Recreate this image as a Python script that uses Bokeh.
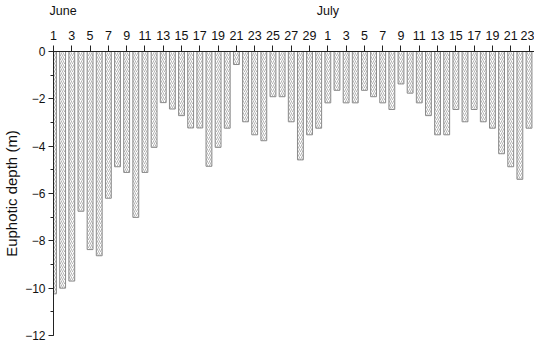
from bokeh.plotting import figure
from bokeh.models import Range1d, FixedTicker, SingleIntervalTicker
from bokeh.embed import file_html
from bokeh.resources import INLINE

# ---- data ----
month_names = ["June", "July"]
june_days = list(range(1, 31))
july_days = list(range(1, 24))
depth_june = [-10.24, -10.0, -9.7, -6.75, -8.37, -8.63, -6.2, -4.87, -5.11, -7.01,
              -5.11, -4.05, -2.16, -2.43, -2.71, -3.23, -3.23, -4.85, -4.05, -3.24,
              -0.55, -2.97, -3.52, -3.77, -1.91, -1.91, -2.97, -4.58, -3.52, -3.24]
depth_july = [-2.17, -1.64, -2.17, -2.17, -1.64, -1.91, -2.17, -2.45, -1.37, -1.76,
              -2.17, -2.71, -3.52, -3.52, -2.45, -2.97, -2.45, -2.97, -3.24, -4.32,
              -4.87, -5.40, -3.24]
y_ticks = [0, -2, -4, -6, -8, -10, -12]

day_labels = [str(d) for d in june_days + july_days]
depth = depth_june + depth_july
xs = list(range(1, len(depth) + 1))
# tick (day index) under which each month name is written
month_label_at = [3, len(june_days) + 1]

FONT = "Liberation Sans"

p = figure(width=534, height=342, output_backend="svg", toolbar_location=None,
           x_range=Range1d(1, 53.6), y_range=Range1d(min(y_ticks), max(y_ticks)),
           x_axis_location="above",
           min_border_left=44, min_border_right=0, min_border_top=48, min_border_bottom=7)

p.vbar(x=xs, top=0, bottom=depth, width=0.64,
       fill_color="white", line_color="#8a8a8a", line_width=1,
       hatch_pattern="/", hatch_color="#a0a0a0", hatch_scale=4, hatch_weight=0.8)

p.outline_line_color = None
p.xgrid.grid_line_color = None
p.ygrid.grid_line_color = None

# day axis (top) with month names on a line above
tick_pos = xs[::2]
labels = {t: day_labels[t - 1] for t in tick_pos}
pads = ["\u00a0" * 5, ""]
for name, at, pad in zip(month_names, month_label_at, pads):
    labels[at] = name + pad + "\n" + day_labels[at - 1]

xa = p.xaxis[0]
xa.ticker = FixedTicker(ticks=tick_pos)
xa.major_label_overrides = labels
xa.major_tick_out = 6
xa.major_tick_in = 0
xa.minor_tick_line_color = None
xa.axis_line_color = "#222222"
xa.major_tick_line_color = "#222222"
xa.major_label_text_font = FONT
xa.major_label_text_font_size = "12.5px"
xa.major_label_text_line_height = 1.75
xa.major_label_text_color = "#111111"
xa.major_label_standoff = 3

# y axis
ya = p.yaxis[0]
ya.ticker = SingleIntervalTicker(interval=2, num_minor_ticks=2)
ya.major_tick_out = 5
ya.major_tick_in = 0
ya.minor_tick_out = 3
ya.minor_tick_in = 0
ya.axis_line_color = "#222222"
ya.major_tick_line_color = "#222222"
ya.minor_tick_line_color = "#222222"
ya.major_label_text_font = FONT
ya.major_label_text_font_size = "12px"
ya.major_label_text_color = "#111111"
ya.major_label_standoff = 3
ya.axis_label = "Euphotic depth (m)"
ya.axis_label_text_font = FONT
ya.axis_label_text_font_size = "15px"
ya.axis_label_text_font_style = "normal"
ya.axis_label_text_color = "#111111"
ya.axis_label_standoff = 2

open("out.html", "w").write(file_html(p, INLINE))
